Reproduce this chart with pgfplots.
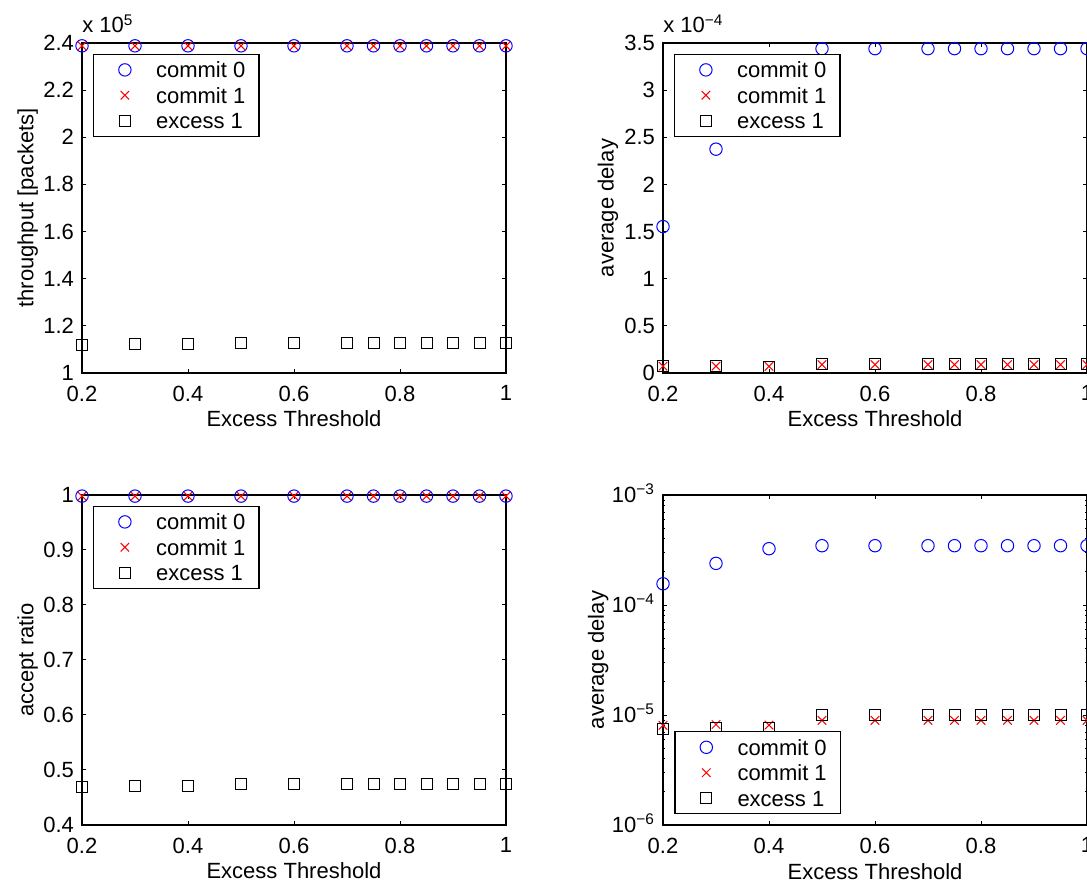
\documentclass[border=0pt]{standalone}
\usepackage{fontspec}
\setmainfont{Liberation Sans}
\usepackage{pgfplots}
\pgfplotsset{compat=1.18}

% one pixel of the reference = 0.5pt
\pgfplotsset{
  matfig/.style={
    scale only axis, width=212pt, height=165pt, anchor=south west,
    font=\fontsize{11}{13}\selectfont,
    xmin=0.2, xmax=1,
    xtick={0.2,0.4,0.6,0.8,1}, xticklabels={0.2,0.4,0.6,0.8,1},
    tick align=inside, tick pos=both,
    major tick length=2.1pt, minor tick length=1.2pt,
    every tick/.style={black, line width=0.5pt},
    axis line style={line width=0.6pt},
    xticklabel style={yshift=-2.8pt},
    yticklabel style={xshift=-0.5pt},
    xlabel={Excess Threshold},
    xlabel style={at={(axis description cs:0.5,0)}, anchor=base, yshift=-27pt},
    ylabel style={at={(axis description cs:-0.128,0.5)}, anchor=center},
    clip=false,
    legend cell align=left,
    legend style={draw=black, line width=0.7pt, fill=white,
      inner xsep=4pt, inner ysep=3.8pt, row sep=4.7pt,
      nodes={inner xsep=2.75pt, inner ysep=0pt, text height=8pt, text depth=0pt}},
  },
  legtop/.style={legend style={at={(axis description cs:0,1)}, anchor=north west,
      xshift=5.5pt, yshift=-5.3pt}},
  legbot/.style={legend style={at={(axis description cs:0,0)}, anchor=south west,
      xshift=5.7pt, yshift=5.3pt}},
  limage/.style={legend image code/.code={\path (0pt,0pt) (23.75pt,0pt);
      \draw[##1] plot coordinates {(11.25pt,0pt)};}},
  c0/.style={only marks, mark=o, blue, mark size=3.1pt, mark options={line width=0.5pt}, limage},
  c1/.style={only marks, mark=x, red, mark size=3pt, mark options={line width=0.5pt}, limage},
  e1/.style={only marks, mark=square, black, mark size=2.75pt, mark options={line width=0.5pt}, limage},
}

\pgfplotstableread{
x    c0     c1     e1
0.2  2.388  2.388  1.118
0.3  2.388  2.388  1.122
0.4  2.388  2.388  1.122
0.5  2.388  2.388  1.129
0.6  2.388  2.388  1.129
0.7  2.388  2.388  1.129
0.75 2.388  2.388  1.129
0.8  2.388  2.388  1.129
0.85 2.388  2.388  1.129
0.9  2.388  2.388  1.129
0.95 2.388  2.388  1.129
1.0  2.388  2.388  1.129
}\throughput

\pgfplotstableread{
x    c0     c1     e1
0.2  1.553  0.072  0.069
0.3  2.374  0.073  0.070
0.4  3.25   0.070  0.067
0.5  3.44   0.088  0.091
0.6  3.44   0.088  0.091
0.7  3.44   0.088  0.091
0.75 3.44   0.088  0.091
0.8  3.44   0.088  0.091
0.85 3.44   0.088  0.091
0.9  3.44   0.088  0.091
0.95 3.44   0.088  0.091
1.0  3.44   0.088  0.091
}\delaylin

\pgfplotstableread{
x    c0     c1     e1
0.2  0.998  0.998  0.4693
0.3  0.998  0.998  0.4705
0.4  0.998  0.998  0.4705
0.5  0.998  0.998  0.474
0.6  0.998  0.998  0.474
0.7  0.998  0.998  0.474
0.75 0.998  0.998  0.474
0.8  0.998  0.998  0.474
0.85 0.998  0.998  0.474
0.9  0.998  0.998  0.474
0.95 0.998  0.998  0.474
1.0  0.998  0.998  0.474
}\accept

\pgfplotstableread{
x    c0       c1       e1
0.2  1.56e-4  8.05e-6  7.5e-6
0.3  2.39e-4  8.2e-6   7.6e-6
0.4  3.25e-4  8.1e-6   7.6e-6
0.5  3.46e-4  8.95e-6  1.0e-5
0.6  3.46e-4  8.95e-6  1.01e-5
0.7  3.46e-4  8.95e-6  1.01e-5
0.75 3.46e-4  8.95e-6  1.01e-5
0.8  3.46e-4  8.95e-6  1.01e-5
0.85 3.46e-4  8.95e-6  1.01e-5
0.9  3.46e-4  8.95e-6  1.01e-5
0.95 3.46e-4  8.95e-6  1.01e-5
1.0  3.46e-4  8.95e-6  1.01e-5
}\delaylog

\begin{document}
\begin{tikzpicture}

% top left: throughput
\begin{axis}[matfig, legtop, at={(41pt,254.5pt)},
  ymin=1, ymax=2.4, ytick={1,1.2,1.4,1.6,1.8,2,2.2,2.4},
  yticklabels={1,1.2,1.4,1.6,1.8,2,2.2,2.4},
  ylabel={throughput [packets]}]
  \addplot[c0] table[x=x, y=c0] {\throughput};
  \addlegendentry{commit 0}
  \addplot[c1] table[x=x, y=c1] {\throughput};
  \addlegendentry{commit 1}
  \addplot[e1] table[x=x, y=e1] {\throughput};
  \addlegendentry{excess 1}
  \node[anchor=base west, inner sep=0pt] at (rel axis cs:0,1) [yshift=5pt] {x 10\textsuperscript{5}};
\end{axis}

% top right: average delay, linear
\begin{axis}[matfig, legtop, at={(331.5pt,254.5pt)},
  ymin=0, ymax=3.5, ytick={0,0.5,1,1.5,2,2.5,3,3.5},
  yticklabels={0,0.5,1,1.5,2,2.5,3,3.5},
  ylabel={average delay},
  ylabel style={at={(axis description cs:-0.13,0.5)}}]
  \addplot[c0] table[x=x, y=c0] {\delaylin};
  \addlegendentry{commit 0}
  \addplot[c1] table[x=x, y=c1] {\delaylin};
  \addlegendentry{commit 1}
  \addplot[e1] table[x=x, y=e1] {\delaylin};
  \addlegendentry{excess 1}
  \node[anchor=base west, inner sep=0pt] at (rel axis cs:0,1) [yshift=5pt] {x 10\textsuperscript{−4}};
\end{axis}

% bottom left: accept ratio
\begin{axis}[matfig, legtop, at={(41pt,28.5pt)},
  ymin=0.4, ymax=1, ytick={0.4,0.5,0.6,0.7,0.8,0.9,1},
  yticklabels={0.4,0.5,0.6,0.7,0.8,0.9,1},
  ylabel={accept ratio}]
  \addplot[c0] table[x=x, y=c0] {\accept};
  \addlegendentry{commit 0}
  \addplot[c1] table[x=x, y=c1] {\accept};
  \addlegendentry{commit 1}
  \addplot[e1] table[x=x, y=e1] {\accept};
  \addlegendentry{excess 1}
\end{axis}

% bottom right: average delay, log
\begin{axis}[matfig, legbot, at={(331.5pt,28.5pt)},
  ymode=log, ymin=1e-6, ymax=1e-3,
  ytick={1e-6,1e-5,1e-4,1e-3},
  yticklabels={10\smash{\textsuperscript{−6}},10\smash{\textsuperscript{−5}},10\smash{\textsuperscript{−4}},10\smash{\textsuperscript{−3}}},
  minor ytick={2e-6,3e-6,4e-6,5e-6,6e-6,7e-6,8e-6,9e-6,2e-5,3e-5,4e-5,5e-5,6e-5,7e-5,8e-5,9e-5,2e-4,3e-4,4e-4,5e-4,6e-4,7e-4,8e-4,9e-4},
  ylabel={average delay},
  ylabel style={at={(axis description cs:-0.153,0.5)}}]
  \addplot[c0] table[x=x, y=c0] {\delaylog};
  \addlegendentry{commit 0}
  \addplot[c1] table[x=x, y=c1] {\delaylog};
  \addlegendentry{commit 1}
  \addplot[e1] table[x=x, y=e1] {\delaylog};
  \addlegendentry{excess 1}
\end{axis}

\pgfresetboundingbox
\path[use as bounding box] (0pt,0pt) rectangle (543.5pt,441pt);
\end{tikzpicture}
\end{document}
